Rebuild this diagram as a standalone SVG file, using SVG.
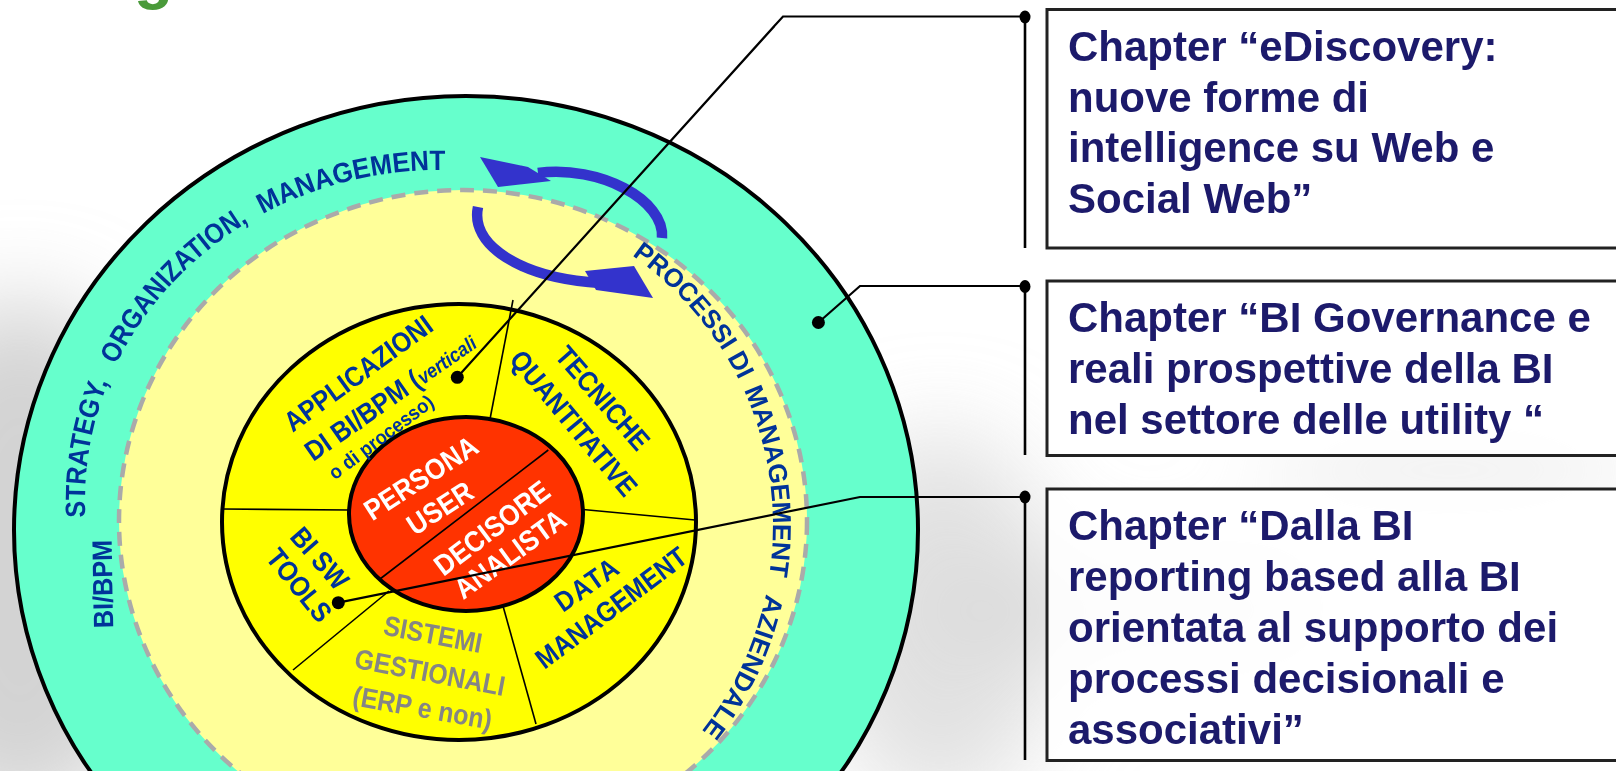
<svg xmlns="http://www.w3.org/2000/svg" width="1616" height="771" viewBox="0 0 1616 771">
<style>
.f{font-family:"Liberation Sans",Arial,Helvetica,sans-serif;font-weight:bold}
.blue{fill:#003399}
.white{fill:#ffffff}
.gray{fill:#858585}
.box{fill:#ffffff;fill-opacity:0.88;stroke:#222;stroke-width:3}
.bt{font-family:"Liberation Sans",Arial,Helvetica,sans-serif;font-weight:bold;font-size:42px;fill:#1c1a6b}
.div{stroke:#000;stroke-width:1.6;fill:none}
.lead{stroke:#000;stroke-width:2.2;fill:none}
.vert{stroke:#000;stroke-width:2.6;fill:none}
.arr{stroke:#3333cc;stroke-width:10.5;fill:none}
</style>
<defs>
<filter id="blur" x="-50%" y="-50%" width="200%" height="200%"><feGaussianBlur stdDeviation="45"/></filter>
<path id="outerPath" d="M 90.4 557.3 A 355 330 0 0 1 501.6 175.0"/>
<path id="rightPath" d="M 617.9 246.1 A 330 330 0 0 1 688.2 746.8"/>
</defs>
<rect width="1616" height="771" fill="#ffffff"/>
<g id="background" filter="url(#blur)">
<ellipse cx="20" cy="560" rx="150" ry="260" fill="#c4c4c4" opacity="0.75"/>
<ellipse cx="940" cy="620" rx="120" ry="190" fill="#cfcfcf" opacity="0.6"/>
<ellipse cx="1120" cy="610" rx="220" ry="50" fill="#d4d4d4" opacity="0.6"/>
<ellipse cx="1450" cy="470" rx="200" ry="40" fill="#dedede" opacity="0.5"/>
</g>
<text class="f" x="134" y="-3.5" font-size="64" fill="#4a9a3a">g</text>
<g id="outer-ring">
<ellipse cx="466" cy="530" rx="452" ry="434" fill="#66ffcc" stroke="#000" stroke-width="4"/>
<text class="f blue" font-size="28" text-anchor="middle" transform="translate(102.4,584) rotate(-91) scale(0.9,1)" y="10">BI/BPM</text>
<text class="f blue" font-size="28"><textPath href="#outerPath" startOffset="40.5" textLength="138" lengthAdjust="spacingAndGlyphs">STRATEGY,</textPath></text>
<text class="f blue" font-size="28"><textPath href="#outerPath" startOffset="197.6" textLength="197.6" lengthAdjust="spacingAndGlyphs">ORGANIZATION,</textPath></text>
<text class="f blue" font-size="28"><textPath href="#outerPath" startOffset="411" textLength="190" lengthAdjust="spacingAndGlyphs">MANAGEMENT</textPath></text>
</g>
<g id="process-ring">
<ellipse cx="463" cy="521" rx="344" ry="331" fill="#ffff99" stroke="#aaaaaa" stroke-width="4.5" stroke-dasharray="14 9"/>
<text class="f blue" font-size="26"><textPath href="#rightPath" startOffset="17" textLength="166" lengthAdjust="spacingAndGlyphs">PROCESSI DI</textPath></text>
<text class="f blue" font-size="26"><textPath href="#rightPath" startOffset="194" textLength="190" lengthAdjust="spacingAndGlyphs">MANAGEMENT</textPath></text>
<text class="f blue" font-size="26"><textPath href="#rightPath" startOffset="402" textLength="153" lengthAdjust="spacingAndGlyphs">AZIENDALE</textPath></text>
</g>
<g id="cycle-arrows">
<path class="arr" d="M 662 238 C 665 200 600 165 538 173"/>
<polygon points="480,157 528,167 551,181 498,187" fill="#3333cc"/>
<path class="arr" d="M 478 207 C 470 245 520 278 600 283"/>
<polygon points="585,271 634,266 653,298 596,290" fill="#3333cc"/>
</g>
<g id="tools-ring">
<ellipse cx="459" cy="522" rx="237" ry="218" fill="#ffff00" stroke="#000" stroke-width="4"/>
<line class="div" x1="490" y1="419" x2="513" y2="300"/>
<line class="div" x1="222" y1="509" x2="349" y2="510"/>
<line class="div" x1="583" y1="509.5" x2="695" y2="520"/>
<line class="div" x1="503" y1="606" x2="536" y2="724"/>
<line class="div" x1="293" y1="670" x2="389" y2="591"/>
</g>
<g id="user-core">
<ellipse cx="466" cy="514" rx="117" ry="97" fill="#ff3300" stroke="#000" stroke-width="4"/>
<line class="div" x1="548.3" y1="450" x2="380" y2="579"/>
<text class="f white" font-size="29" text-anchor="middle" transform="translate(421,478) rotate(-33) scale(0.9,1)" y="10">PERSONA</text>
<text class="f white" font-size="29" text-anchor="middle" transform="translate(440,508) rotate(-33) scale(0.9,1)" y="10">USER</text>
<text class="f white" font-size="29" text-anchor="middle" transform="translate(492,528) rotate(-37) scale(0.9,1)" y="10">DECISORE</text>
<text class="f white" font-size="29" text-anchor="middle" transform="translate(510,554) rotate(-36) scale(0.9,1)" y="10">ANALISTA</text>
</g>
<g id="tools-ring-labels">
<text class="f blue" font-size="28" text-anchor="middle" transform="translate(358,373) rotate(-36) scale(0.89,1)" y="10">APPLICAZIONI</text>
<text class="f blue" font-size="28" text-anchor="middle" transform="translate(390,396) rotate(-35) scale(0.89,1)" y="10">DI BI/BPM (<tspan font-size="20" font-style="italic">verticali</tspan></text>
<text class="f blue" font-size="20" text-anchor="middle" transform="translate(381,437) rotate(-37) scale(0.92,1)" y="7">o di processo)</text>
<text class="f blue" font-size="28" text-anchor="middle" transform="translate(603,398) rotate(49) scale(0.89,1)" y="10">TECNICHE</text>
<text class="f blue" font-size="28" text-anchor="middle" transform="translate(574,423) rotate(50) scale(0.89,1)" y="10">QUANTITATIVE</text>
<text class="f blue" font-size="28" text-anchor="middle" transform="translate(320,558) rotate(49) scale(0.89,1)" y="10">BI SW</text>
<text class="f blue" font-size="28" text-anchor="middle" transform="translate(299.5,585) rotate(51) scale(0.89,1)" y="10">TOOLS</text>
<text class="f gray" font-size="28" text-anchor="middle" transform="translate(433,634) rotate(10.7) scale(0.89,1)" y="10">SISTEMI</text>
<text class="f gray" font-size="28" text-anchor="middle" transform="translate(430,672) rotate(10.7) scale(0.89,1)" y="10">GESTIONALI</text>
<text class="f gray" font-size="28" text-anchor="middle" transform="translate(422.5,707.5) rotate(10) scale(0.89,1)" y="10">(ERP e non)</text>
<text class="f blue" font-size="28" letter-spacing="2" text-anchor="middle" transform="translate(587,584) rotate(-35) scale(0.89,1)" y="10">DATA</text>
<text class="f blue" font-size="28" text-anchor="middle" transform="translate(611,607.5) rotate(-37) scale(0.89,1)" y="10">MANAGEMENT</text>
</g>
<g id="box-ediscovery">
<rect class="box" x="1047" y="9.5" width="620" height="238.5"/>
<text class="bt" x="1068" y="61">Chapter “eDiscovery:</text>
<text class="bt" x="1068" y="111.5">nuove forme di</text>
<text class="bt" x="1068" y="162">intelligence su Web e</text>
<text class="bt" x="1068" y="213">Social Web”</text>
</g>
<g id="box-governance">
<rect class="box" x="1047" y="281" width="620" height="174.5"/>
<text class="bt" x="1068" y="332">Chapter “BI Governance e</text>
<text class="bt" x="1068" y="382.5">reali prospettive della BI</text>
<text class="bt" x="1068" y="433.5">nel settore delle utility “</text>
</g>
<g id="box-reporting">
<rect class="box" x="1047" y="489" width="620" height="271.5"/>
<text class="bt" x="1068" y="540">Chapter “Dalla BI</text>
<text class="bt" x="1068" y="591">reporting based alla BI</text>
<text class="bt" x="1068" y="642">orientata al supporto dei</text>
<text class="bt" x="1068" y="693">processi decisionali e</text>
<text class="bt" x="1068" y="744">associativi”</text>
</g>
<g id="connectors">
<polyline class="lead" points="457.3,377.3 783,16.5 1025,16.5"/>
<polyline class="lead" points="818.4,322.5 860,286 1025,286"/>
<polyline class="lead" points="338.3,602.7 860,497 1025,497"/>
<line class="vert" x1="1025" y1="16.5" x2="1025" y2="248"/>
<line class="vert" x1="1025" y1="286" x2="1025" y2="455"/>
<line class="vert" x1="1025" y1="497" x2="1025" y2="760"/>
<circle cx="457.3" cy="377.3" r="6.5"/>
<circle cx="818.4" cy="322.5" r="6.5"/>
<circle cx="338.3" cy="602.7" r="6.5"/>
<ellipse cx="1025" cy="17" rx="5.5" ry="6.5"/>
<ellipse cx="1025" cy="286.5" rx="5.5" ry="6.5"/>
<ellipse cx="1025" cy="497" rx="5.5" ry="6.5"/>
</g>
</svg>
